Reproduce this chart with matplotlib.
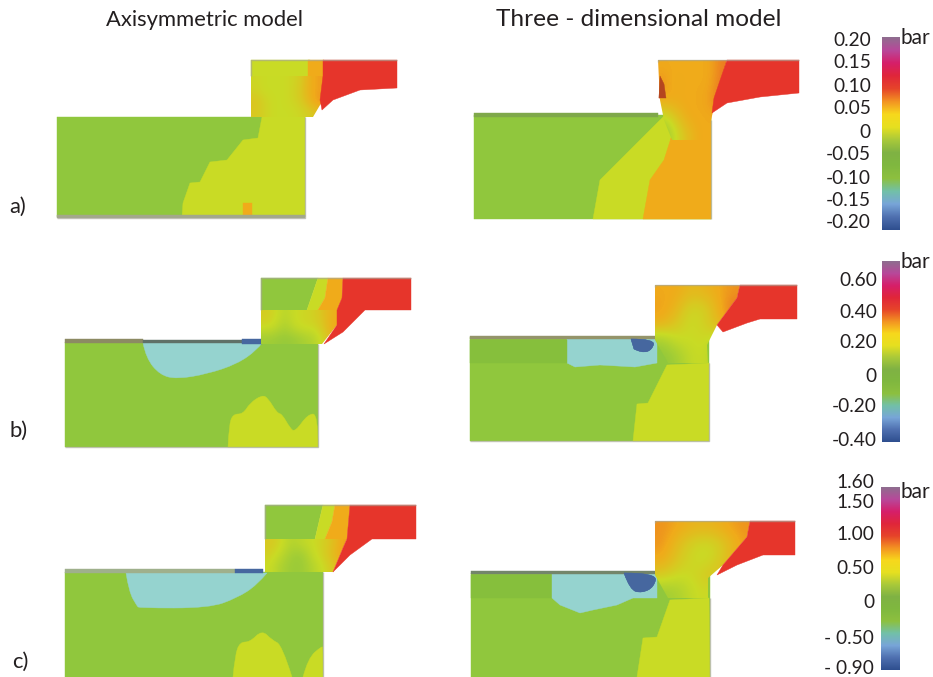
import matplotlib
matplotlib.use("Agg")
import matplotlib.pyplot as plt
import numpy as np
from matplotlib.colors import LinearSegmentedColormap
from matplotlib.patches import PathPatch, Polygon
from matplotlib.path import Path

plt.rcParams['font.family'] = ['Lato', 'DejaVu Sans']

GREEN, LIME, ORANGE, RED, CYAN, BLUE = '#90c73d', '#c9db25', '#f0ab1a', '#e6352b', '#95d3cf', '#46679f'
GRAY, DGRAY, STRIPE = '#a3a88a', '#5f7168', '#86bf3c'

titles = ['Axisymmetric model', 'Three - dimensional model']
row_labels = ['a)', 'b)', 'c)']
unit = 'bar'

ticks_a = ['0.20', '0.15', '0.10', '0.05', '0', '-0.05', '-0.10', '-0.15', '-0.20']
ticks_a_y = [40, 63, 87, 109, 132, 155, 178, 200, 223]
ticks_b = ['0.60', '0.40', '0.20', '0', '-0.20', '-0.40']
ticks_b_y = [280, 312, 343, 376, 407, 440]
ticks_c = ['1.60', '1.50', '1.00', '0.50', '0', '- 0.50', '- 0.90']
ticks_c_y = [483, 503, 535, 569, 603, 638, 668]

bar_stops = ['#8f6d8f', '#b8489a', '#d61f6a', '#e0263a', '#e6442a', '#f39322', '#f7d81c', '#e6e020',
             '#a9c93a', '#7fb244', '#80b83f', '#8dc03f', '#72c0a8', '#78a5d8', '#4f70b0', '#2f4f8f']
field_stops = [BLUE, CYAN, GREEN, LIME, ORANGE, RED]

# ---- contour regions: (colour, outline points, smooth outline)
a_left = [
    (GREEN, [(57, 117), (305, 117), (305, 217), (57, 217)], False),
    (LIME, [(262, 117), (305, 117), (305, 217), (182, 217), (183, 203), (190, 183), (200, 182), (210, 162),
            (227, 160), (243, 140), (258, 138)], False),
    (ORANGE, [(243, 203), (252, 203), (252, 215), (243, 215)], False),
    (GRAY, [(57, 215), (305, 215), (305, 218), (57, 218)], False),
    (LIME, [(251, 60), (310, 60), (310, 76), (251, 76)], False),
    (ORANGE, [(308, 60), (324, 60), (323, 76), (308, 76)], False),
    (RED, [(323, 60), (397, 60), (397, 88), (360, 90), (333, 100), (322, 110), (320, 100), (323, 76)], False),
]
a_right = [
    (GREEN, [(474, 115), (711, 115), (711, 219), (474, 219)], False),
    (LIME, [(593, 219), (600, 180), (620, 160), (645, 135), (667, 113), (711, 113), (711, 219)], False),
    (ORANGE, [(643, 219), (650, 180), (664, 160), (672, 135), (672, 100), (711, 100), (711, 219)], False),
    (RED, [(727, 60), (799, 60), (799, 93), (760, 97), (727, 103), (712, 113), (714, 98)], False),
    ('#b5451f', [(660, 76), (664, 84), (666, 98), (659, 98)], False),
    ('#7fa84a', [(474, 113), (658, 113), (658, 117), (474, 117)], False),
]
b_left = [
    (GREEN, [(65, 342), (318, 342), (318, 447), (65, 447)], False),
    (CYAN, [(143, 343), (146, 358), (160, 375), (177, 379), (207, 374), (237, 364), (257, 350), (262, 343)], True),
    (LIME, [(228, 447), (229, 425), (233, 414), (243, 414), (250, 403), (262, 395), (268, 398), (277, 413),
            (282, 414), (290, 428), (295, 432), (308, 414), (318, 414), (318, 447)], True),
    ('#8c8a63', [(65, 339), (143, 339), (143, 343), (65, 343)], False),
    (DGRAY, [(143, 340), (242, 340), (242, 343), (143, 343)], False),
    (BLUE, [(242, 339), (262, 339), (262, 344), (242, 344)], False),
    (GREEN, [(261, 278), (318, 278), (307, 310), (261, 310)], False),
    (LIME, [(318, 278), (328, 278), (325, 298), (318, 310), (307, 310)], False),
    (ORANGE, [(328, 278), (343, 278), (342, 298), (337, 310), (318, 310), (325, 298)], False),
    (RED, [(343, 278), (411, 278), (411, 310), (365, 310), (343, 332), (324, 344), (337, 325), (337, 310), (342, 298)], False),
]
b_right = [
    (GREEN, [(470, 337), (709, 337), (709, 441), (470, 441)], False),
    (CYAN, [(567, 338), (657, 338), (657, 363), (635, 367), (600, 365), (575, 367), (567, 363)], False),
    (LIME, [(633, 441), (637, 404), (648, 403), (667, 365), (709, 363), (709, 441)], False),
    (STRIPE, [(470, 340), (567, 340), (567, 363), (470, 363)], False),
    ('#94946a', [(470, 336), (658, 336), (658, 339), (470, 339)], False),
    (BLUE, [(631, 339), (655, 339), (652, 350), (642, 353), (634, 349)], True),
    (RED, [(740, 285), (797, 285), (797, 319), (760, 319), (747, 323), (723, 332), (717, 325), (737, 298)], False),
]
c_left = [
    (GREEN, [(65, 572), (323, 572), (323, 677), (65, 677)], False),
    (CYAN, [(126, 573), (129, 592), (137, 606), (139, 608), (209, 608), (237, 598), (257, 585), (267, 573)], True),
    (LIME, [(233, 677), (235, 655), (240, 642), (250, 642), (262, 630), (272, 640), (282, 645), (292, 677)], True),
    (LIME, [(303, 677), (308, 658), (322, 646), (323, 648), (323, 677)], True),
    ('#9fb08c', [(65, 569), (235, 569), (235, 573), (65, 573)], False),
    (BLUE, [(235, 569), (263, 569), (263, 573), (235, 573)], False),
    (GREEN, [(265, 505), (323, 505), (315, 539), (265, 539)], False),
    (LIME, [(323, 505), (335, 505), (332, 522), (325, 539), (315, 539)], False),
    (ORANGE, [(335, 505), (350, 505), (347, 539), (325, 539), (332, 522)], False),
    (RED, [(350, 505), (416, 505), (416, 539), (372, 539), (350, 555), (333, 572), (343, 548), (347, 539)], False),
]
c_right = [
    (GREEN, [(471, 573), (710, 573), (710, 677), (471, 677)], False),
    (STRIPE, [(471, 575), (552, 575), (552, 598), (471, 598)], False),
    (CYAN, [(552, 573), (657, 573), (657, 598), (633, 598), (617, 605), (593, 610), (580, 613), (560, 605), (552, 598)], False),
    (LIME, [(637, 677), (643, 638), (657, 637), (670, 600), (709, 598), (710, 677)], False),
    ('#73856a', [(471, 571), (657, 571), (657, 574), (471, 574)], False),
    (BLUE, [(624, 573), (657, 573), (654, 587), (642, 593), (630, 590), (624, 573)], True),
    (RED, [(750, 521), (795, 521), (795, 555), (763, 555), (737, 565), (717, 575), (723, 565), (747, 537)], False),
]
panels = [a_left, a_right, b_left, b_right, c_left, c_right]

# ---- blurred throat fields: field level grid, extent (x0, x1, y1, y0), clip outline
# level scale: 0 blue, 1 cyan, 2 green, 3 lime, 4 orange, 5 red
a_left_throat = ([[3.1, 3.0, 3.0, 3.0, 3.1, 3.3, 3.9, 4.1],
                  [3.2, 3.0, 3.0, 3.0, 3.1, 3.4, 3.9, 4.1],
                  [3.5, 3.2, 3.0, 3.0, 3.1, 3.3, 3.8, 4.2],
                  [3.4, 3.2, 3.0, 3.0, 3.0, 3.1, 3.3, 3.6]],
                 (251, 323, 117, 76),
                 [(251, 76), (323, 76), (323, 100), (313, 117), (251, 117)])
a_right_throat = ([[4.0, 4.0, 4.0, 4.0, 4.0, 4.4],
                   [4.2, 3.9, 4.0, 4.0, 4.0, 4.5],
                   [4.0, 4.0, 4.0, 4.0, 4.1, 4.6],
                   [3.0, 3.5, 4.0, 4.0, 4.0, 4.0],
                   [2.0, 3.0, 3.6, 4.0, 4.0, 4.0]],
                  (658, 728, 140, 60),
                  [(658, 60), (727, 60), (717, 95), (711, 120), (711, 140), (672, 140), (664, 120), (660, 100)])
b_left_throat = ([[3.3, 3.1, 2.7, 3.0, 3.1, 3.2, 3.5, 3.9],
                  [3.1, 2.9, 2.5, 2.9, 3.1, 3.1, 3.4, 4.0],
                  [2.3, 2.2, 2.1, 2.2, 2.4, 2.6, 3.1, 3.8]],
                 (261, 337, 344, 310),
                 [(261, 310), (337, 310), (337, 325), (322, 344), (261, 344)])
b_right_throat = ([[4.0, 4.0, 3.7, 3.8, 4.0, 4.2],
                   [4.1, 3.8, 3.1, 3.2, 3.9, 4.5],
                   [3.9, 3.4, 3.0, 3.2, 3.8, 4.2],
                   [2.4, 3.0, 3.0, 3.1, 2.6, 2.6],
                   [2.0, 2.3, 2.9, 3.0, 2.4, 2.4]],
                  (655, 740, 363, 285),
                  [(655, 285), (740, 285), (737, 298), (717, 325), (707, 345), (708, 363), (668, 363), (655, 340)])
c_left_throat = ([[3.4, 3.1, 2.6, 2.8, 3.0, 3.2, 3.6, 4.1],
                  [3.2, 2.8, 2.3, 2.2, 2.9, 3.2, 3.7, 4.2],
                  [3.0, 2.5, 2.2, 2.2, 2.6, 3.0, 3.4, 3.9]],
                 (265, 349, 572, 539),
                 [(265, 539), (347, 539), (343, 548), (333, 572), (265, 572)])
c_right_throat = ([[4.2, 4.0, 3.8, 3.8, 4.0, 4.2],
                   [4.2, 3.6, 3.1, 3.0, 3.5, 4.1],
                   [4.0, 3.4, 3.0, 3.0, 3.6, 4.2],
                   [3.4, 3.0, 3.1, 3.5, 3.6, 4.0],
                   [2.3, 2.5, 3.0, 3.1, 2.4, 2.4]],
                  (655, 750, 598, 521),
                  [(655, 521), (750, 521), (747, 537), (723, 565), (708, 578), (708, 598), (668, 598), (655, 575)])
throats = [a_left_throat, a_right_throat, b_left_throat, b_right_throat, c_left_throat, c_right_throat]

edges = [[(305, 117), (305, 218), (57, 218)], [(711, 120), (711, 219)], [(318, 344), (318, 447), (65, 447)],
         [(709, 363), (709, 441), (470, 441)], [(323, 572), (323, 677)], [(710, 598), (710, 677)],
         [(251, 76), (251, 60), (397, 60)], [(658, 62), (658, 60), (799, 60)], [(261, 310), (261, 278), (411, 278)],
         [(655, 287), (655, 285), (797, 285)], [(265, 539), (265, 505), (416, 505)], [(655, 523), (655, 521), (795, 521)]]

bars = [(882, 900, 37, 230), (882, 900, 261, 442), (881, 900, 487, 670)]


def smooth_path(pts):
    """Quadratic curve through the chain from the first point to the last, closed with a straight edge."""
    verts, codes = [pts[0]], [Path.MOVETO]
    for i in range(1, len(pts) - 1):
        end = pts[-1] if i == len(pts) - 2 else ((pts[i][0] + pts[i + 1][0]) / 2, (pts[i][1] + pts[i + 1][1]) / 2)
        verts += [pts[i], end]
        codes += [Path.CURVE3, Path.CURVE3]
    verts.append(pts[0])
    codes.append(Path.CLOSEPOLY)
    return Path(verts, codes)


fig = plt.figure(figsize=(9.33, 6.77), dpi=100)
ax = fig.add_axes([0, 0, 1, 1])
ax.set_xlim(0, 933)
ax.set_ylim(677, 0)
ax.axis('off')

for regions in panels:
    for color, pts, smooth in regions:
        z = 5 if color == RED else 2
        if smooth:
            ax.add_patch(PathPatch(smooth_path(pts), fc=color, ec=color, lw=0.3, zorder=z))
        else:
            ax.add_patch(Polygon(pts, closed=True, fc=color, ec=color, lw=0.3, zorder=z, joinstyle='round'))

field_cmap = LinearSegmentedColormap.from_list('field', field_stops)
for grid, ext, clip in throats:
    im = ax.imshow(np.array(grid), cmap=field_cmap, vmin=0, vmax=5, extent=ext, aspect='auto',
                   interpolation='bicubic', zorder=3)
    im.set_clip_path(Polygon(clip, closed=True, transform=ax.transData))

# the spot of low pressure sits above the field in the 3-D views
for regions in (a_right, b_right, c_right):
    for color, pts, smooth in regions:
        if color in (BLUE, '#b5451f'):
            ax.add_patch(PathPatch(smooth_path(pts), fc=color, ec=color, lw=0.3, zorder=4) if smooth
                         else Polygon(pts, closed=True, fc=color, ec=color, lw=0.3, zorder=4))

for e in edges:
    xs, ys = zip(*e)
    ax.plot(xs, ys, color='#a8a89a', lw=1.0, alpha=0.65, zorder=6, solid_capstyle='butt')

bar_cmap = LinearSegmentedColormap.from_list('bar', bar_stops)
grad = np.linspace(0, 1, 256).reshape(-1, 1)
for x0, x1, y0, y1 in bars:
    ax.imshow(grad, cmap=bar_cmap, extent=(x0, x1, y1, y0), aspect='auto', zorder=3)
ax.set_xlim(0, 933)
ax.set_ylim(677, 0)

tc, title_fs, tick_fs = '#231f20', 15.8, 13.8
ax.text(205, 20, titles[0], ha='center', va='center', fontsize=title_fs, color=tc)
ax.text(639, 20, titles[1], ha='center', va='center', fontsize=17.6, color=tc)
for lab, x, y in zip(row_labels, [18, 19, 20], [207, 431, 662]):
    ax.text(x, y, lab, ha='center', va='center', fontsize=title_fs, color=tc)
for lab, y in zip(ticks_a, ticks_a_y):
    ax.text(871, y, lab, ha='right', va='center', fontsize=tick_fs, color=tc)
for lab, y in zip(ticks_b, ticks_b_y):
    ax.text(877, y, lab, ha='right', va='center', fontsize=tick_fs, color=tc)
for lab, y in zip(ticks_c, ticks_c_y):
    ax.text(874, y, lab, ha='right', va='center', fontsize=tick_fs, color=tc)
for y in [38, 262, 492]:
    ax.text(901, y, unit, ha='left', va='center', fontsize=15, color=tc)

fig.savefig('out.png', dpi=100)
